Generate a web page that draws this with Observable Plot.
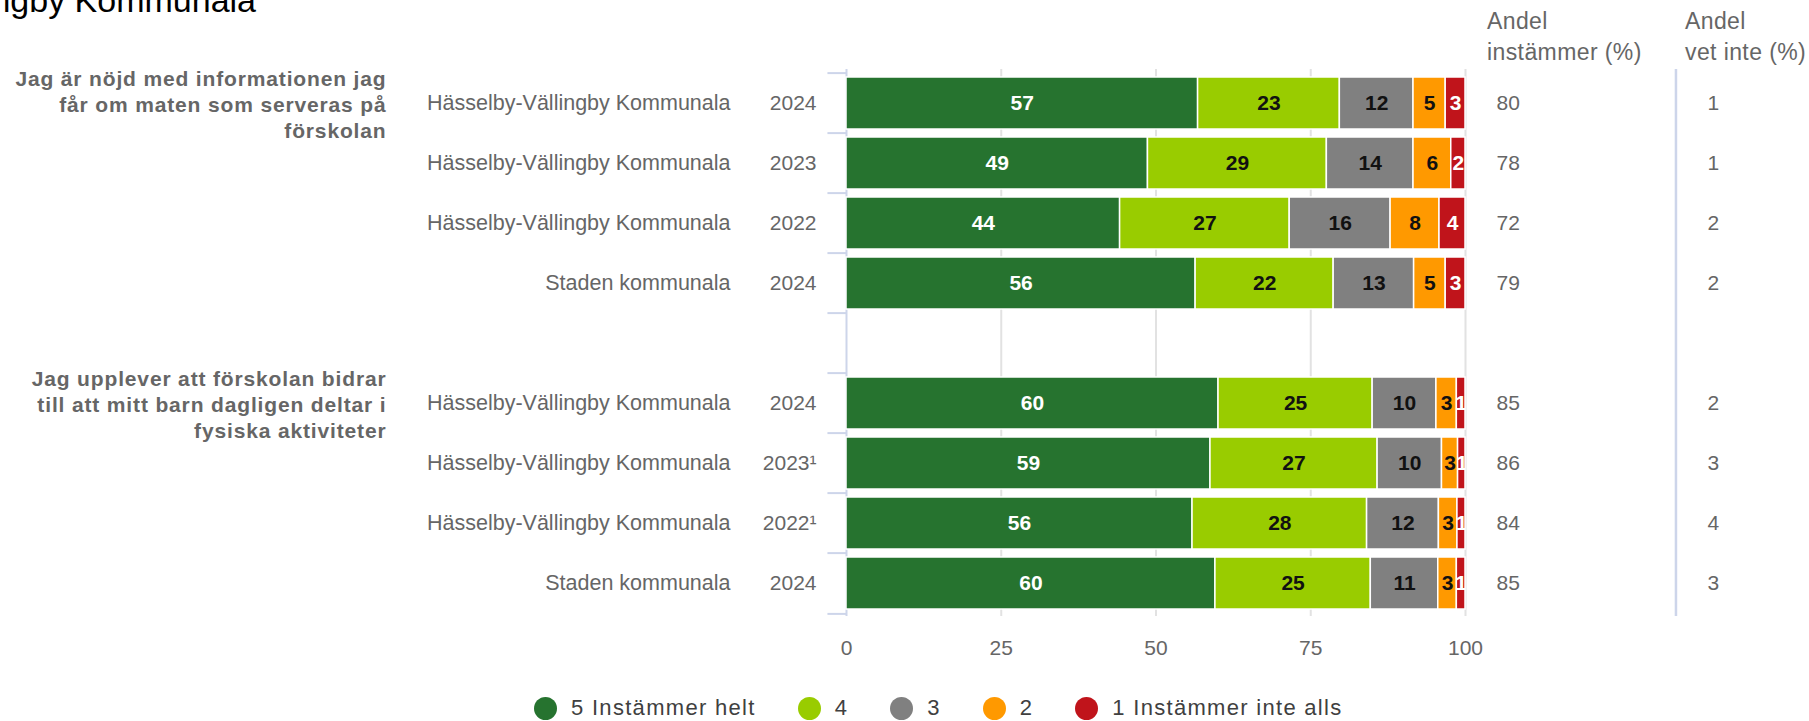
<!DOCTYPE html>
<html>
<head>
<meta charset="utf-8">
<script src="https://cdn.jsdelivr.net/npm/d3@7"></script>
<script src="https://cdn.jsdelivr.net/npm/@observablehq/plot@0.6"></script>
<style>
html, body { margin: 0; padding: 0; background: #fff; }
#wrap { position: relative; width: 1809px; height: 721px; overflow: hidden; font-family: 'Liberation Sans', Arial, sans-serif; }
#chart { position: absolute; left: 0; top: 0; }
#title { position: absolute; left: -224px; top: -17px; font-size: 34px; line-height: 34px; color: #000; white-space: nowrap; }
.hdr { position: absolute; top: 6px; font-size: 23px; line-height: 31px; color: #666; white-space: nowrap; letter-spacing: 0.4px; }
#legend { position: absolute; left: 534px; top: 696px; height: 24px; display: flex; align-items: center; }
.item { display: flex; align-items: center; margin-right: 42px; }
.dot { width: 23px; height: 23px; border-radius: 50%; margin-right: 14px; }
.lab { font-size: 22px; color: #404040; letter-spacing: 1.3px; white-space: nowrap; }
</style>
</head>
<body>
<div id="wrap">
  <div id="chart"></div>
  <div id="title"></div>
  <div id="hdrAgree" class="hdr" style="left:1487px"></div>
  <div id="hdrDk" class="hdr" style="left:1685px"></div>
  <div id="legend"></div>
</div>
<script>
// ---------- data ----------
const title = "Hässelby-Vällingby Kommunala";
const questions = [
  "Jag är nöjd med informationen jag\nfår om maten som serveras på\nförskolan",
  "Jag upplever att förskolan bidrar\ntill att mitt barn dagligen deltar i\nfysiska aktiviteter"
];
const questionOfRow = [0, 0, 0, 0, 1, 1, 1, 1];
const units = [
  "Hässelby-Vällingby Kommunala", "Hässelby-Vällingby Kommunala", "Hässelby-Vällingby Kommunala", "Staden kommunala",
  "Hässelby-Vällingby Kommunala", "Hässelby-Vällingby Kommunala", "Hässelby-Vällingby Kommunala", "Staden kommunala"
];
const years = ["2024", "2023", "2022", "2024", "2024", "2023¹", "2022¹", "2024"];
const categories = ["5 Instämmer helt", "4", "3", "2", "1 Instämmer inte alls"];
const colors = ["#26732f", "#99cc00", "#808080", "#ff9900", "#c0141b"];
const s5 = [56.8, 48.7, 44.2, 56.4, 60.1, 58.8, 55.9, 59.6];
const s4 = [22.9, 28.9, 27.4, 22.3, 24.9, 27.0, 28.2, 25.1];
const s3 = [11.9, 14.0, 16.3, 13.0, 10.3, 10.4, 11.6, 10.9];
const s2 = [5.2, 6.1, 7.9, 5.1, 3.3, 2.6, 3.0, 3.0];
const s1 = [3.2, 2.3, 4.2, 3.2, 1.4, 1.2, 1.3, 1.4];
const agree = [80, 78, 72, 79, 85, 86, 84, 85];
const dontKnow = [1, 1, 2, 2, 2, 3, 4, 3];
const headerAgree = ["Andel", "instämmer (%)"];
const headerDontKnow = ["Andel", "vet inte (%)"];
const xTicks = [0, 25, 50, 75, 100];

// ---------- layout ----------
const W = 1809, H = 672, mTop = 69, mBottom = 56, mLeft = 846, mRight = 344;
const AGREE_COL = 105, DK_COL = 139.1, SEP_COL = 134;
const gapKey = "gap";
const rowKeys = units.map((_, i) => "r" + i);
const yDomain = [...rowKeys.slice(0, 4), gapKey, ...rowKeys.slice(4)];
const step = (H - mTop - mBottom) / yDomain.length;

const series = [s5, s4, s3, s2, s1];
const long = [];
rowKeys.forEach((key, i) => {
  categories.forEach((cat, k) => long.push({row: key, cat, k, value: series[k][i]}));
});
const rows = rowKeys.map((key, i) => ({key, unit: units[i], year: years[i], agree: agree[i], dk: dontKnow[i]}));
const qRows = questions.map((q, qi) => ({key: rowKeys[questionOfRow.indexOf(qi)], text: q}));
const whiteText = new Set([0, 4]);

const chart = Plot.plot({
  width: W, height: H,
  marginTop: mTop, marginBottom: mBottom, marginLeft: mLeft, marginRight: mRight,
  style: {fontFamily: "'Liberation Sans', Arial, sans-serif", fontSize: "21px", background: "transparent", overflow: "visible"},
  x: {domain: [0, 100], axis: null},
  y: {domain: yDomain, padding: 0, axis: null},
  color: {domain: categories, range: colors},
  marks: [
    Plot.ruleX([25, 50, 75, 100], {stroke: "#e2e2e2", strokeWidth: 2}),
    Plot.ruleX([0], {stroke: "#cdd5ea", strokeWidth: 2}),
    Plot.ruleX([SEP_COL], {stroke: "#cdd5ea", strokeWidth: 2.5}),
    Plot.ruleY(yDomain, {y: d => d, x1: -3, x2: 0, dy: -step / 2, stroke: "#cdd5ea", strokeWidth: 2}),
    Plot.ruleY(yDomain.slice(-1), {y: d => d, x1: -3, x2: 0, dy: step / 2, stroke: "#cdd5ea", strokeWidth: 2}),
    Plot.barX(long, Plot.stackX({x: "value", y: "row", fill: "cat", insetTop: 4, insetBottom: 4, stroke: "white", strokeWidth: 1.5})),
    Plot.text(long, Plot.stackX({x: "value", y: "row", z: "cat", text: d => whiteText.has(d.k) ? String(Math.round(d.value)) : null, fill: "white", fontWeight: "bold", fontSize: 21, clip: "frame"})),
    Plot.text(long, Plot.stackX({x: "value", y: "row", z: "cat", text: d => whiteText.has(d.k) ? null : String(Math.round(d.value)), fill: "#111", fontWeight: "bold", fontSize: 21, clip: "frame"})),
    Plot.text(rows, {y: "key", text: "unit", frameAnchor: "left", dx: -116, textAnchor: "end", fill: "#666", fontSize: 21.5}),
    Plot.text(rows, {y: "key", text: "year", frameAnchor: "left", dx: -30, textAnchor: "end", fill: "#666"}),
    Plot.text(rows, {y: "key", x: () => AGREE_COL, text: d => String(d.agree), textAnchor: "start", fill: "#666"}),
    Plot.text(rows, {y: "key", x: () => DK_COL, text: d => String(d.dk), textAnchor: "start", fill: "#666"}),
    Plot.text(qRows, {y: "key", text: "text", frameAnchor: "left", dx: -460, textAnchor: "end", lineAnchor: "middle", lineHeight: 1.26, fontWeight: "bold", fill: "#666", fontSize: 21}),
    Plot.axisX({ticks: xTicks, tickSize: 0, tickPadding: 24, tickFormat: d => String(d), fill: "#666", fontSize: 21, label: null})
  ]
});
const qFlat = new Set(questions.map(q => q.replace(/\n/g, "")));
d3.select(chart).selectAll("text")
  .filter(function () { return qFlat.has(this.textContent); })
  .style("letter-spacing", "0.85px");
document.getElementById("chart").appendChild(chart);

document.getElementById("title").textContent = title;
document.getElementById("hdrAgree").innerHTML = headerAgree.join("<br>");
document.getElementById("hdrDk").innerHTML = headerDontKnow.join("<br>");

const legend = d3.select("#legend");
categories.forEach((cat, k) => {
  const it = legend.append("div").attr("class", "item");
  it.append("div").attr("class", "dot").style("background", colors[k]);
  it.append("span").attr("class", "lab").text(cat);
});
</script>
</body>
</html>
